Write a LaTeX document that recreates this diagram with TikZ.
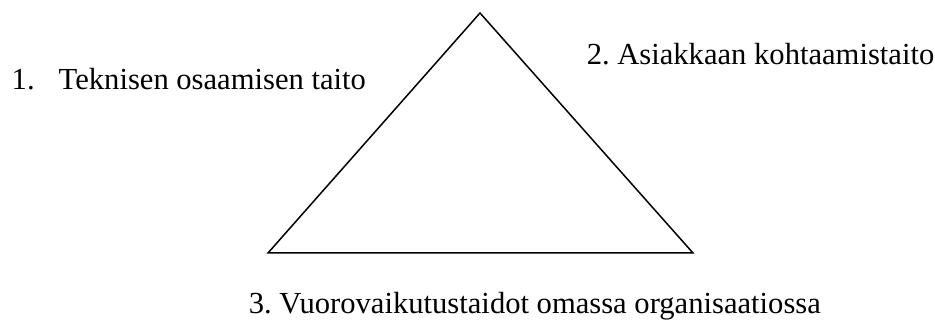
\documentclass[tikz,border=0pt]{standalone}
\usepackage{fontspec}
\setmainfont{Liberation Serif}
\usepackage{tikz}

\begin{document}
\begin{tikzpicture}[x=1pt, y=-1pt, line width=1.5pt,
	every node/.style={font=\fontsize{30.6}{36}\selectfont, inner sep=0pt, anchor=base west}]
	\useasboundingbox (0,0) rectangle (935,323);
	\coordinate (top) at (480,13);
	\coordinate (left) at (268,253);
	\coordinate (right) at (693,253);
	\draw[line join=miter] (top) -- (right) -- (left) -- cycle;
	\node (tech) at (11,90) {\makebox[47pt][l]{1.}Teknisen osaamisen taito};
	\node (cust) at (586,65) {2.\ Asiakkaan kohtaamistaito};
	\node (org) at (248,313) {3.\ Vuorovaikutustaidot omassa organisaatiossa};
\end{tikzpicture}
\end{document}
